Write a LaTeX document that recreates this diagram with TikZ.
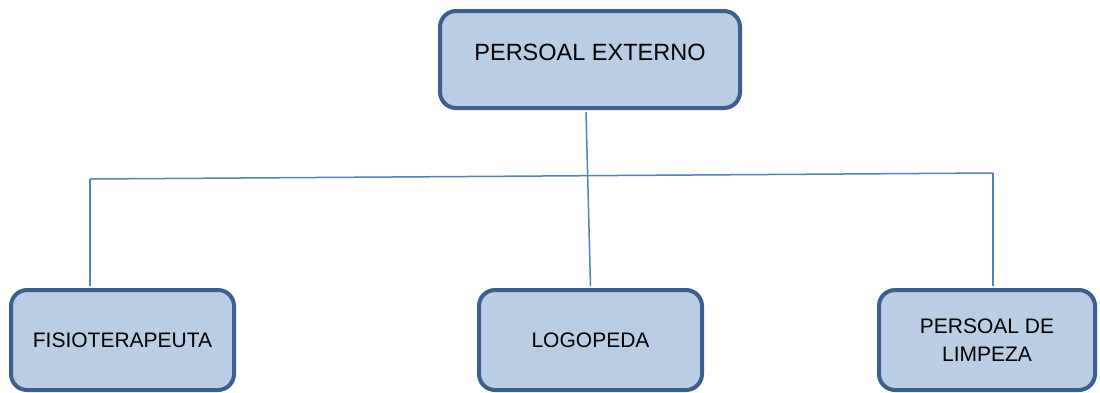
\documentclass[tikz,border=0pt]{standalone}
\usepackage{fontspec}
\setmainfont{Liberation Sans}
\definecolor{boxfill}{HTML}{B9CDE5}
\definecolor{boxline}{HTML}{3C5F8D}
\definecolor{conn}{HTML}{4F81BD}
\begin{document}
\begin{tikzpicture}[x=1pt,y=-1pt,
  orgbox/.style={draw=boxline, fill=boxfill, line width=4pt, rounded corners=16pt, inner sep=0pt},
  conline/.style={draw=conn, line width=1.5pt},
  bigtext/.style={font=\fontsize{23.5}{28}\selectfont, inner sep=0pt},
  smalltext/.style={font=\fontsize{21}{28}\selectfont, align=center, inner sep=0pt}]
\useasboundingbox (0,0) rectangle (1100,392);
\node[orgbox, minimum width=300pt, minimum height=97pt] (top) at (590,59.5) {};
\node[bigtext] (toptext) at (590,52) {PERSOAL EXTERNO};
\node[orgbox, smalltext, minimum width=223pt, minimum height=100pt] (fis) at (122.5,340) {FISIOTERAPEUTA};
\node[orgbox, smalltext, minimum width=223pt, minimum height=100pt] (logo) at (590.5,340) {LOGOPEDA};
\node[orgbox, smalltext, minimum width=216pt, minimum height=100pt] (limp) at (987,340) {PERSOAL DE\\LIMPEZA};
\coordinate (hl) at (90,179);
\coordinate (hr) at (993,173);
\draw[conline] ([xshift=-4pt,yshift=-2pt]top.south) -- ([yshift=2pt]logo.north);
\draw[conline] (hl) -- (hr);
\draw[conline] (hl) -- ([yshift=2pt]hl |- fis.north);
\draw[conline] (hr) -- ([yshift=2pt]hr |- limp.north);
\end{tikzpicture}
\end{document}
